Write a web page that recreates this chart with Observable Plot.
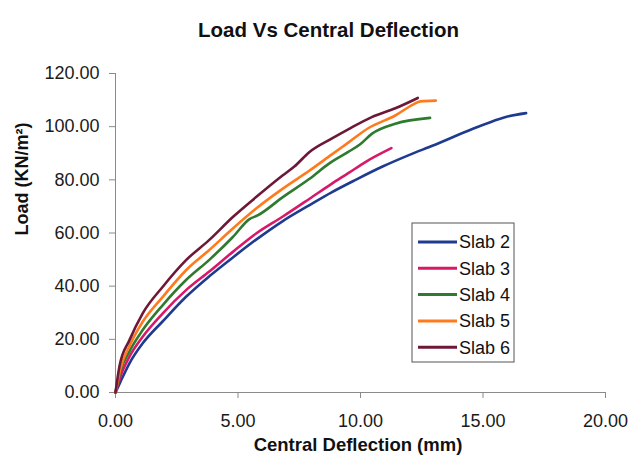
<!DOCTYPE html>
<html>
<head>
<meta charset="utf-8">
<script src="https://cdn.jsdelivr.net/npm/d3@7"></script>
<script src="https://cdn.jsdelivr.net/npm/@observablehq/plot@0.6"></script>
<style>
  html, body { margin: 0; padding: 0; background: #ffffff; }
  #chart { width: 641px; height: 462px; }
</style>
</head>
<body>
<div id="chart"></div>
<script>
// ---- data ----
const seriesNames = ["Slab 2", "Slab 3", "Slab 4", "Slab 5", "Slab 6"];
const seriesColors = ["#1f3b8f", "#d8196a", "#2e7a2e", "#ff7a1c", "#6e1838"];

const slab2 = [[0,0],[0.2,4],[0.57,11],[1.11,18.5],[1.93,26.8],[2.88,36],[3.84,43.8],[4.79,50.8],[5.74,57.5],[6.83,64.5],[7.92,70.5],[8.82,75.3],[9.8,80],[10.9,85],[12.0,89.4],[12.96,92.9],[14.59,99.2],[15.67,102.9],[16.0,103.8],[16.76,105.1]];
const slab3 = [[0,0],[0.2,6],[0.57,13.5],[1.11,21],[1.93,29.8],[2.88,38.5],[3.84,45.6],[4.79,52.9],[5.74,59.8],[6.83,66.2],[7.92,72.9],[8.82,78.5],[9.5,82.5],[10.2,86.7],[11.26,91.9]];
const slab4 = [[0,0],[0.2,8],[0.57,15.5],[1.11,23.5],[1.93,32.9],[2.88,42.3],[3.84,50],[4.79,58.5],[5.47,65.2],[5.8,66.6],[6.83,73.5],[7.92,80.4],[8.7,86],[9.5,90.5],[10.0,93.5],[10.46,97.3],[11.42,101.1],[12.84,103.3]];
const slab5 = [[0,0],[0.2,9],[0.57,17.5],[1.11,26.6],[1.93,36],[2.88,46],[3.84,53.7],[4.79,61.7],[5.74,69.2],[6.83,76.7],[7.92,83.5],[8.82,89.5],[9.5,94],[10.33,99.5],[11.42,104.2],[12.16,108.4],[12.44,109.5],[13.07,109.8]];
const slab6 = [[0,0],[0.16,9.8],[0.57,19.7],[1.11,29.8],[1.93,39.8],[2.88,49.8],[3.84,57.5],[4.79,66],[5.74,73.5],[6.83,81.7],[7.3,85],[7.92,90.5],[8.82,95.5],[9.5,99],[10.46,103.6],[11.42,106.9],[12.34,110.8]];
const seriesData = [slab2, slab3, slab4, slab5, slab6];

const xTicks = [0, 5, 10, 15, 20];
const yTicks = [0, 20, 40, 60, 80, 100, 120];

const titleText = "Load Vs Central Deflection";
const xLabel = "Central Deflection (mm)";
const yLabel = "Load (KN/m\u00B2)";

// tidy table for the library
const rows = seriesData.flatMap((pts, i) =>
  pts.map(([x, y], j) => ({ series: seriesNames[i], x, y, order: j })));

const FONT = "'Liberation Sans', Arial, sans-serif";

const plot = Plot.plot({
  width: 641,
  height: 462,
  marginLeft: 115,
  marginRight: 36,
  marginTop: 73,
  marginBottom: 70,
  style: { fontFamily: FONT, fontSize: "18px", color: "#1a1a1a", background: "transparent" },
  x: { domain: [0, 20] },
  y: { domain: [0, 120] },
  color: { domain: seriesNames, range: seriesColors },
  marks: [
    Plot.ruleY([0], { stroke: "#8a8a8a", strokeWidth: 1 }),
    Plot.ruleX([0], { stroke: "#8a8a8a", strokeWidth: 1 }),
    Plot.axisX({ ticks: xTicks, tickFormat: d3.format(".2f"), tickSize: 6, tickPadding: 16, stroke: "#8a8a8a", label: null, fill: "#1a1a1a", fontSize: 18 }),
    Plot.axisY({ ticks: yTicks, tickFormat: d3.format(".2f"), tickSize: 6, tickPadding: 10, stroke: "#8a8a8a", label: null, fill: "#1a1a1a", fontSize: 18 }),
    Plot.line(rows, { x: "x", y: "y", z: "series", stroke: "series", strokeWidth: 2.6, curve: "monotone-x" }),
    Plot.text([titleText], { frameAnchor: "top", dx: -32, dy: -51, fontSize: 20.5, fontWeight: "bold", fill: "#111" }),
    Plot.text([xLabel], { frameAnchor: "bottom", dx: -2.5, dy: 58, fontSize: 18.5, fontWeight: "bold", fill: "#111" }),
    Plot.text([yLabel], { frameAnchor: "left", dx: -93, dy: 2.5, rotate: -90, fontSize: 18, fontWeight: "bold", fill: "#111" })
  ]
});

document.getElementById("chart").appendChild(plot);

// ---- legend box drawn inside the plot ----
const svg = d3.select(plot);
const lg = svg.append("g").attr("transform", "translate(412,223)");
lg.append("rect").attr("x", 0).attr("y", 0).attr("width", 102).attr("height", 139)
  .attr("fill", "#ffffff").attr("stroke", "#555").attr("stroke-width", 1);
seriesNames.forEach((name, i) => {
  const cy = 19 + i * 26.3;
  lg.append("line").attr("x1", 6).attr("x2", 45).attr("y1", cy).attr("y2", cy)
    .attr("stroke", seriesColors[i]).attr("stroke-width", 3);
  lg.append("text").attr("x", 47).attr("y", cy).attr("dy", "0.35em")
    .attr("text-anchor", "start")
    .attr("font-family", FONT).attr("font-size", 18).attr("fill", "#111").text(name);
});
</script>
</body>
</html>
